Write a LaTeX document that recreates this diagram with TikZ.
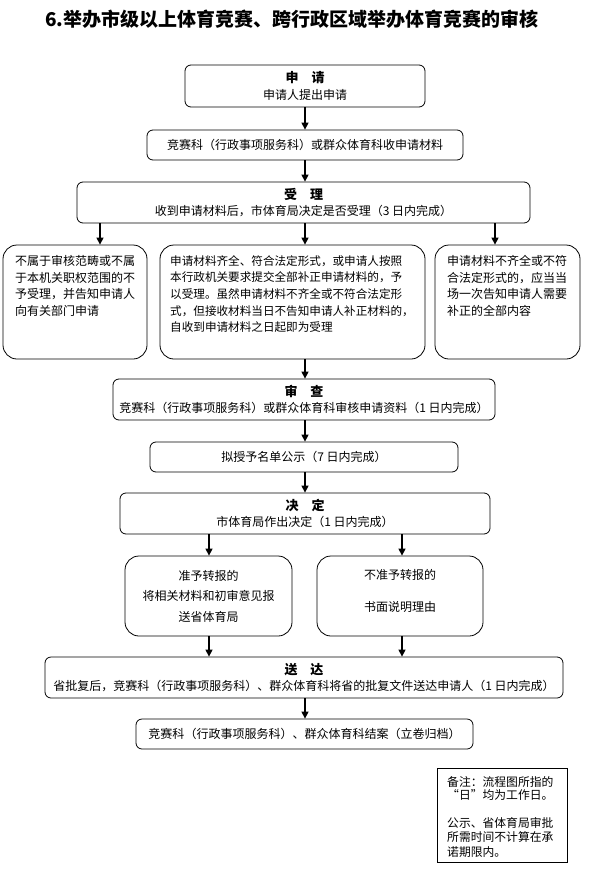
\documentclass[tikz,border=0pt]{standalone}
\usepackage{fontspec}
\setmainfont{Noto Sans CJK SC}
\usetikzlibrary{arrows.meta}
\begin{document}
\begin{tikzpicture}[x=1bp,y=-1bp,
 box/.style={draw, line width=0.8bp, rounded corners=6bp, inner sep=0pt, align=center,
   font=\fontsize{12bp}{16.5bp}\selectfont},
 bigbox/.style={draw, line width=0.8bp, rounded corners=14bp, inner sep=0pt},
 notebox/.style={draw, line width=0.8bp, inner sep=0pt},
 arr/.style={line width=1.3bp, -{Triangle[length=7bp,width=7bp]}},
 para/.style={inner sep=0pt, align=left, anchor=north west,
   font=\fontsize{12bp}{16.7bp}\selectfont},
 hd/.style={font=\fontsize{13bp}{16bp}\selectfont\bfseries}
]
\useasboundingbox (0,0) rectangle (590,874);
\fill[white] (0,0) rectangle (590,874);

\node[font=\fontsize{19bp}{22bp}\selectfont\bfseries] (title) at (292,19)
  {6.举办市级以上体育竞赛、跨行政区域举办体育竞赛的审核};

\node[box, minimum width=240bp, minimum height=42bp] (n1) at (305,86)
  {{\fontsize{13bp}{16bp}\selectfont\bfseries 申\hspace{1em}请}\\申请人提出申请};
\node[box, minimum width=316bp, minimum height=30bp] (n2) at (305,145)
  {竞赛科（行政事项服务科）或群众体育科收申请材料};
\node[box, minimum width=453bp, minimum height=41bp] (n3) at (303.5,202.5)
  {{\fontsize{13bp}{16bp}\selectfont\bfseries 受\hspace{1em}理}\\收到申请材料后，市体育局决定是否受理（3 日内完成）};

\node[bigbox, minimum width=144bp, minimum height=114bp] (L) at (75,302) {};
\node[bigbox, minimum width=265bp, minimum height=114bp] (M) at (292.5,302) {};
\node[bigbox, minimum width=145bp, minimum height=114bp] (R) at (507.5,302) {};
\node[para] (Lt) at (15,255)
  {不属于审核范畴或不属\\于本机关职权范围的不\\予受理，并告知申请人\\向有关部门申请};
\node[para, font=\fontsize{11.6bp}{16.7bp}\selectfont] (Mt) at (170,255)
  {申请材料齐全、符合法定形式，或申请人按照\\本行政机关要求提交全部补正申请材料的，予\\以受理。虽然申请材料不齐全或不符合法定形\\式，但接收材料当日不告知申请人补正材料的，\\自收到申请材料之日起即为受理};
\node[para] (Rt) at (447,255)
  {申请材料不齐全或不符\\合法定形式的，应当当\\场一次告知申请人需要\\补正的全部内容};

\node[box, minimum width=382bp, minimum height=41bp] (n5) at (304,399.5)
  {{\fontsize{13bp}{16bp}\selectfont\bfseries 审\hspace{1em}查}\\竞赛科（行政事项服务科）或群众体育科审核申请资料（1 日内完成）};
\node[box, minimum width=308bp, minimum height=30bp] (n6) at (304,457)
  {拟授予名单公示（7 日内完成）};
\node[box, minimum width=370bp, minimum height=41bp] (n7) at (305,513.5)
  {{\fontsize{13bp}{16bp}\selectfont\bfseries 决\hspace{1em}定}\\市体育局作出决定（1 日内完成）};

\node[bigbox, minimum width=167bp, minimum height=80bp] (A) at (208.5,596) {};
\node[bigbox, minimum width=166bp, minimum height=80bp] (B) at (400,596) {};
\node[inner sep=0pt, align=center, font=\fontsize{12bp}{20.5bp}\selectfont] (At) at (208.5,596)
  {准予转报的\\将相关材料和初审意见报\\送省体育局};
\node[inner sep=0pt, align=center, font=\fontsize{12bp}{32bp}\selectfont] (Bt) at (400,591)
  {不准予转报的\\书面说明理由};

\node[box, minimum width=518bp, minimum height=41bp] (n8) at (304,677.5)
  {{\fontsize{13bp}{16bp}\selectfont\bfseries 送\hspace{1em}达}\\省批复后，竞赛科（行政事项服务科）、群众体育科将省的批复文件送达申请人（1 日内完成）};
\node[box, minimum width=337bp, minimum height=30bp] (n9) at (304.5,734)
  {竞赛科（行政事项服务科）、群众体育科结案（立卷归档）};

\node[notebox, minimum width=130bp, minimum height=94bp] (note) at (502,815) {};
\node[para, font=\fontsize{11.8bp}{14.5bp}\selectfont] (nt) at (447,776)
  {备注：流程图所指的\\[-1bp]“日”均为工作日。\\[13bp]公示、省体育局审批\\所需时间不计算在承\\诺期限内。};

% connectors
\coordinate (xl) at (100,0);
\coordinate (xr) at (495,0);
\coordinate (xa) at (209,0);
\coordinate (xb) at (402,0);
\draw[arr] (n1.south) -- (n2.north);
\draw[arr] (n2.south) -- (n2.south |- n3.north);
\draw[arr] (n3.south -| xl) -- (L.north -| xl);
\draw[arr] (n3.south -| n2.south) -- (M.north -| n2.south);
\draw[arr] (n3.south -| xr) -- (R.north -| xr);
\draw[arr] (M.south -| n2.south) -- (n5.north -| n2.south);
\draw[arr] (n5.south -| n2.south) -- (n6.north -| n2.south);
\draw[arr] (n6.south -| n2.south) -- (n7.north -| n2.south);
\draw[arr] (n7.south -| xa) -- (A.north -| xa);
\draw[arr] (n7.south -| xb) -- (B.north -| xb);
\draw[arr] (A.south -| xa) -- (n8.north -| xa);
\draw[arr] (B.south -| xb) -- (n8.north -| xb);
\draw[arr] (n8.south -| n2.south) -- (n9.north -| n2.south);
\end{tikzpicture}
\end{document}
